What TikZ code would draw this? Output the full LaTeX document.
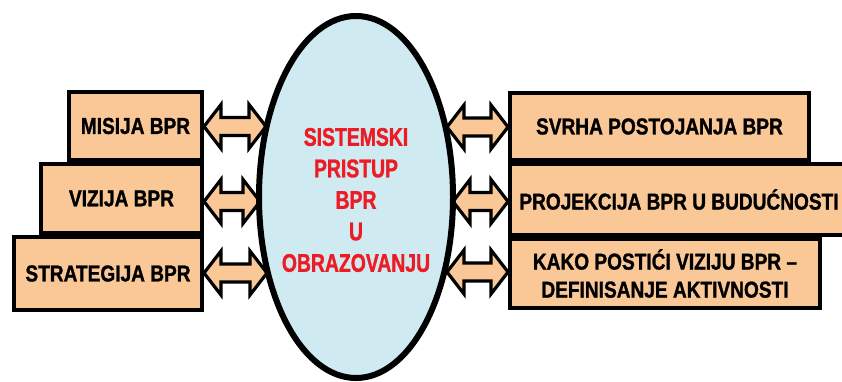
\documentclass[tikz,border=0pt]{standalone}
\usepackage{fontspec}
\setmainfont{Liberation Sans}
\newfontfamily\boxfont{Liberation Sans Bold}[FakeStretch=0.83, FakeBold=1.2]
\newfontfamily\ellfont{Liberation Sans Bold}[FakeStretch=0.76, FakeBold=1.2]
\usetikzlibrary{calc}
\definecolor{peach}{RGB}{250,200,150}
\definecolor{lblue}{RGB}{207,234,241}
\definecolor{tred}{RGB}{237,28,36}
\tikzset{
  box/.style={draw=black, line width=4pt, fill=peach, inner sep=0pt, align=center,
    font=\boxfont\fontsize{23}{28}\selectfont},
  dbl/.style={draw=black, line width=3.2pt, fill=peach, line join=miter,
    to path={let \p1=(\tikztostart), \p2=(\tikztotarget) in
      (\x1,\y1) -- (\x1+17pt,\y1+22pt) -- (\x1+17pt,\y1+9pt) -- (\x2-17pt,\y1+9pt)
      -- (\x2-17pt,\y1+22pt) -- (\x2,\y1) -- (\x2-17pt,\y1-22pt) -- (\x2-17pt,\y1-9pt)
      -- (\x1+17pt,\y1-9pt) -- (\x1+17pt,\y1-22pt) -- cycle}}
}
\begin{document}
\begin{tikzpicture}[x=1pt,y=-1pt]
\useasboundingbox (0,0) rectangle (842,381);
\clip (0,0) rectangle (842,381);
\fill[white] (0,0) rectangle (842,381);
% left boxes
\node[box, minimum width=133pt, minimum height=68pt] (m1) at (135.5,126) {MISIJA BPR};
\node[box, minimum width=161pt, minimum height=69pt] (m2) at (121.5,198.5) {VIZIJA BPR};
\node[box, minimum width=188pt, minimum height=73pt] (m3) at (108,273.5) {STRATEGIJA BPR};
% right boxes
\node[box, minimum width=299pt, minimum height=67pt] (r1) at (659.5,126.5) {SVRHA POSTOJANJA BPR};
\node[box, minimum width=338pt, minimum height=71pt] (r2) at (679,199.5) {PROJEKCIJA BPR U BUDUĆNOSTI};
\node[box, minimum width=310pt, minimum height=69pt] (r3) at (665,273.5) {KAKO POSTIĆI VIZIJU BPR –\\DEFINISANJE AKTIVNOSTI};
% points on ellipse border
\coordinate (e1l) at (266,126.5);
\coordinate (e2l) at (260,201.5);
\coordinate (e3l) at (267,273);
\coordinate (e1r) at (447,127);
\coordinate (e2r) at (453,201.5);
\coordinate (e3r) at (447,272);
% arrows
\draw[dbl] (m1.east |- e1l) to (e1l);
\draw[dbl] (m2.east |- e2l) to (e2l);
\draw[dbl] (m3.east |- e3l) to (e3l);
\draw[dbl] (e1r) to (r1.west |- e1r);
\draw[dbl] (e2r) to (r2.west |- e2r);
\draw[dbl] (e3r) to (r3.west |- e3r);
% ellipse
\draw[line width=6pt, fill=lblue] (356,197) ellipse [x radius=97, y radius=181];
\node[text=tred, align=center, font=\ellfont\fontsize{25.5}{31.5}\selectfont] (ell) at (356,200)
  {SISTEMSKI\\PRISTUP\\BPR\\U\\OBRAZOVANJU};
\end{tikzpicture}
\end{document}
